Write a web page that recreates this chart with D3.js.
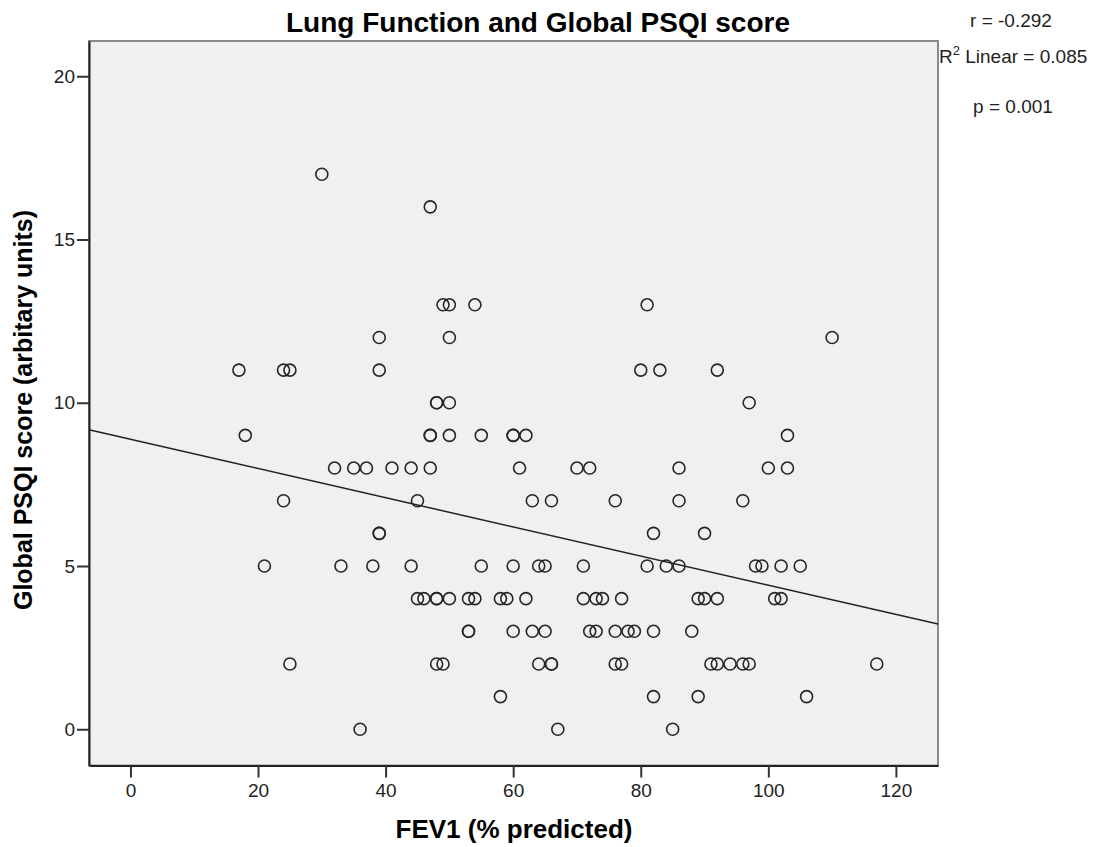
<!DOCTYPE html>
<html>
<head>
<meta charset="utf-8">
<script src="https://cdn.jsdelivr.net/npm/d3@7"></script>
<style>
  body { margin: 0; background: #fff; }
  text { font-family: "Liberation Sans", Arial, sans-serif; }
</style>
</head>
<body>
<script>
// FEV1 (% predicted) and PSQI score
const fev1 = [
  30,
  47,
  49, 50, 54, 81,
  39, 50, 110,
  17, 24, 25, 39, 80, 83, 92,
  48, 48, 50, 97,
  18, 47, 47, 50, 55, 60, 60, 62, 103,
  32, 35, 37, 41, 44, 47, 61, 70, 72, 86, 100, 103,
  24, 45, 63, 66, 76, 86, 96,
  39, 39, 82, 90,
  21, 33, 38, 44, 55, 60, 64, 65, 71, 81, 84, 86, 98, 99, 102, 105,
  45, 46, 48, 48, 50, 53, 54, 58, 59, 62, 71, 73, 74, 77, 89, 90, 92, 101, 102,
  53, 53, 60, 63, 65, 72, 73, 76, 78, 79, 82, 88,
  25, 48, 49, 64, 66, 66, 76, 77, 91, 92, 94, 96, 97, 117,
  58, 82, 89, 106,
  36, 67, 85
];
const psqi = [
  17,
  16,
  13, 13, 13, 13,
  12, 12, 12,
  11, 11, 11, 11, 11, 11, 11,
  10, 10, 10, 10,
  9, 9, 9, 9, 9, 9, 9, 9, 9,
  8, 8, 8, 8, 8, 8, 8, 8, 8, 8, 8, 8,
  7, 7, 7, 7, 7, 7, 7,
  6, 6, 6, 6,
  5, 5, 5, 5, 5, 5, 5, 5, 5, 5, 5, 5, 5, 5, 5, 5,
  4, 4, 4, 4, 4, 4, 4, 4, 4, 4, 4, 4, 4, 4, 4, 4, 4, 4, 4,
  3, 3, 3, 3, 3, 3, 3, 3, 3, 3, 3, 3,
  2, 2, 2, 2, 2, 2, 2, 2, 2, 2, 2, 2, 2, 2,
  1, 1, 1, 1,
  0, 0, 0
];

// fit line as shown (intercept, slope)
const fitIntercept = 8.88;
const fitSlope = -0.0447;

const xTicks = [0, 20, 40, 60, 80, 100, 120];
const yTicks = [0, 5, 10, 15, 20];

const width = 1097, height = 847;
const plot = { left: 89, right: 938, top: 41, bottom: 765.5 };

const svg = d3.select("body").append("svg")
  .attr("width", width)
  .attr("height", height);

const x = d3.scaleLinear().domain([-6.5, 126.6]).range([plot.left, plot.right]);
const y = d3.scaleLinear().domain([-1.11, 21.08]).range([plot.bottom, plot.top]);

// plot background and frame
svg.append("rect")
  .attr("x", plot.left).attr("y", plot.top)
  .attr("width", plot.right - plot.left).attr("height", plot.bottom - plot.top)
  .attr("fill", "#f0f0f0")
  .attr("stroke", "#8a8a8a")
  .attr("stroke-width", 2);

// points
const pts = fev1.map((v, i) => ({ fev: v, score: psqi[i] }));
svg.append("g").selectAll("circle")
  .data(pts)
  .enter()
  .append("circle")
  .attr("cx", d => x(d.fev))
  .attr("cy", d => y(d.score))
  .attr("r", 6)
  .attr("fill", "none")
  .attr("stroke", "#262626")
  .attr("stroke-width", 1.6);

// fit line across the plot
const xd = x.domain();
svg.append("line")
  .attr("x1", x(xd[0])).attr("y1", y(fitIntercept + fitSlope * xd[0]))
  .attr("x2", x(xd[1])).attr("y2", y(fitIntercept + fitSlope * xd[1]))
  .attr("stroke", "#222")
  .attr("stroke-width", 1.5);

// axes
const xAxis = d3.axisBottom(x).tickValues(xTicks).tickSize(12).tickSizeOuter(0);
const gx = svg.append("g").attr("transform", `translate(0, ${plot.bottom})`).call(xAxis);
gx.select(".domain").attr("stroke", "#222").attr("stroke-width", 2);
gx.selectAll(".tick line").attr("stroke", "#333").attr("stroke-width", 2);
gx.selectAll(".tick text")
  .style("font-size", "19px").attr("fill", "#222")
  .attr("y", 31).attr("dy", null);

const yAxis = d3.axisLeft(y).tickValues(yTicks).tickSize(12).tickSizeOuter(0);
const gy = svg.append("g").attr("transform", `translate(${plot.left}, 0)`).call(yAxis);
gy.select(".domain").attr("stroke", "#222").attr("stroke-width", 2);
gy.selectAll(".tick line").attr("stroke", "#333").attr("stroke-width", 2);
gy.selectAll(".tick text")
  .style("font-size", "19px").attr("fill", "#222").attr("x", -14);

// titles
svg.append("text")
  .attr("x", 538).attr("y", 32)
  .attr("text-anchor", "middle")
  .style("font-size", "28px").attr("font-weight", "bold")
  .text("Lung Function and Global PSQI score");

svg.append("text")
  .attr("x", 514).attr("y", 838)
  .attr("text-anchor", "middle")
  .style("font-size", "26px").attr("font-weight", "bold")
  .text("FEV1 (% predicted)");

svg.append("text")
  .attr("transform", `translate(32, 410) rotate(-90)`)
  .attr("text-anchor", "middle")
  .style("font-size", "25px").attr("font-weight", "bold")
  .text("Global PSQI score (arbitary units)");

// stats notes
svg.append("text")
  .attr("x", 1011).attr("y", 27)
  .attr("text-anchor", "middle")
  .style("font-size", "19px").attr("fill", "#222")
  .text("r = -0.292");

const r2 = svg.append("text")
  .attr("x", 939).attr("y", 63)
  .attr("text-anchor", "start")
  .style("font-size", "19px").attr("fill", "#222");
r2.append("tspan").text("R");
r2.append("tspan").style("font-size", "13px").attr("dy", -8).text("2");
r2.append("tspan").attr("dy", 8).text(" Linear = 0.085");

svg.append("text")
  .attr("x", 1013).attr("y", 113)
  .attr("text-anchor", "middle")
  .style("font-size", "19px").attr("fill", "#222")
  .text("p = 0.001");
</script>
</body>
</html>
